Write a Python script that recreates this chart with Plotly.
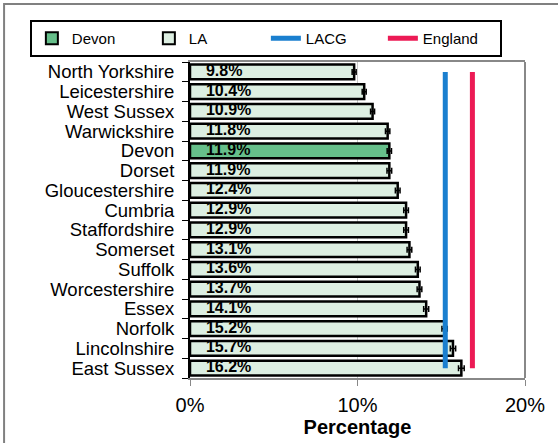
import plotly.graph_objects as go

areas = ["North Yorkshire", "Leicestershire", "West Sussex", "Warwickshire", "Devon",
         "Dorset", "Gloucestershire", "Cumbria", "Staffordshire", "Somerset", "Suffolk",
         "Worcestershire", "Essex", "Norfolk", "Lincolnshire", "East Sussex"]
values = [9.8, 10.4, 10.9, 11.8, 11.9, 11.9, 12.4, 12.9, 12.9, 13.1, 13.6, 13.7, 14.1, 15.2, 15.7, 16.2]
errors = [0.12, 0.12, 0.12, 0.13, 0.13, 0.14, 0.14, 0.14, 0.14, 0.14, 0.14, 0.14, 0.15, 0.16, 0.16, 0.17]
highlight = "Devon"
lacg_value = 15.24
england_value = 16.86
x_ticks = [0, 10, 20]
x_tick_labels = ["0%", "10%", "20%"]

FONT = "Arial, Liberation Sans, sans-serif"
LA_FILL = "#DDEFE2"
DEVON_FILL = "#66BF8A"
LACG_COL = "#1A7FCF"
ENG_COL = "#EC1A55"

la_y = [a for a in areas if a != highlight]
la_x = [v for a, v in zip(areas, values) if a != highlight]
la_e = [e for a, e in zip(areas, errors) if a != highlight]
dv_y = [a for a in areas if a == highlight]
dv_x = [v for a, v in zip(areas, values) if a == highlight]
dv_e = [e for a, e in zip(areas, errors) if a == highlight]

fig = go.Figure()
fig.add_trace(go.Bar(
    name="Devon", y=dv_y, x=dv_x, orientation="h", width=0.74,
    marker=dict(color=DEVON_FILL, line=dict(color="black", width=2.5)),
    error_x=dict(type="data", array=dv_e, color="black", thickness=1.5, width=3),
    legendrank=1, hoverinfo="skip"))
fig.add_trace(go.Bar(
    name="LA", y=la_y, x=la_x, orientation="h", width=0.74,
    marker=dict(color=LA_FILL, line=dict(color="black", width=2.5)),
    error_x=dict(type="data", array=la_e, color="black", thickness=1.5, width=3),
    legendrank=2, hoverinfo="skip"))
fig.add_trace(go.Scatter(
    name="LACG", y=areas, x=[lacg_value] * len(areas), mode="lines",
    line=dict(color=LACG_COL, width=5), legendrank=3))
fig.add_trace(go.Scatter(
    name="England", y=areas, x=[england_value] * len(areas), mode="lines",
    line=dict(color=ENG_COL, width=5), legendrank=4))
fig.add_trace(go.Scatter(
    y=areas, x=[0.95] * len(areas), mode="text",
    text=[f"{v:.1f}%" for v in values], textposition="middle right",
    textfont=dict(family=FONT, size=16, color="black", weight="bold"),
    showlegend=False, hoverinfo="skip", cliponaxis=False))

fig.update_layout(
    width=558, height=443,
    margin=dict(l=190, r=33, t=62, b=65, autoexpand=False),
    paper_bgcolor="white", plot_bgcolor="white",
    font=dict(family=FONT, color="black"),
    barmode="overlay",
    showlegend=True,
    legend=dict(orientation="h", x=-0.478, xanchor="left", y=1.133, yanchor="top",
                bordercolor="black", borderwidth=2, font=dict(size=15),
                entrywidth=72, traceorder="normal", itemsizing="constant"),
    xaxis=dict(range=[0, 20], tickmode="array", tickvals=x_ticks, ticktext=x_tick_labels,
               showgrid=True, gridcolor="#C8C8C8", gridwidth=1,
               showline=True, linecolor="#888888", linewidth=2, mirror=True,
               ticks="outside", ticklen=6, tickcolor="#888888", tickwidth=1,
               tickfont=dict(size=20), ticklabelstandoff=2, automargin=False,
               title=dict(text="<b>Percentage</b>", font=dict(size=20), standoff=3),
               zeroline=False),
    yaxis=dict(categoryorder="array", categoryarray=areas,
               range=[len(areas) - 0.5, -0.5],
               tickmode="array", tickvals=areas, ticktext=areas, automargin=False,
               showline=True, linecolor="black", linewidth=2,
               ticks="outside", ticklen=6, tickcolor="black", tickson="boundaries",
               tickfont=dict(size=18.5), ticklabelstandoff=10, showgrid=False),
    shapes=[
        dict(type="line", xref="paper", yref="paper", x0=1, x1=1, y0=0, y1=1,
             line=dict(color="#888888", width=2)),
        dict(type="rect", xref="paper", yref="paper", x0=-0.555, x1=1.2, y0=-0.3, y1=1.1835,
             line=dict(color="#808080", width=2), layer="below"),
    ],
)

fig.write_html("out.html", config={"displayModeBar": False},
               post_script="document.body.style.margin='0px';document.body.style.padding='0px';")
